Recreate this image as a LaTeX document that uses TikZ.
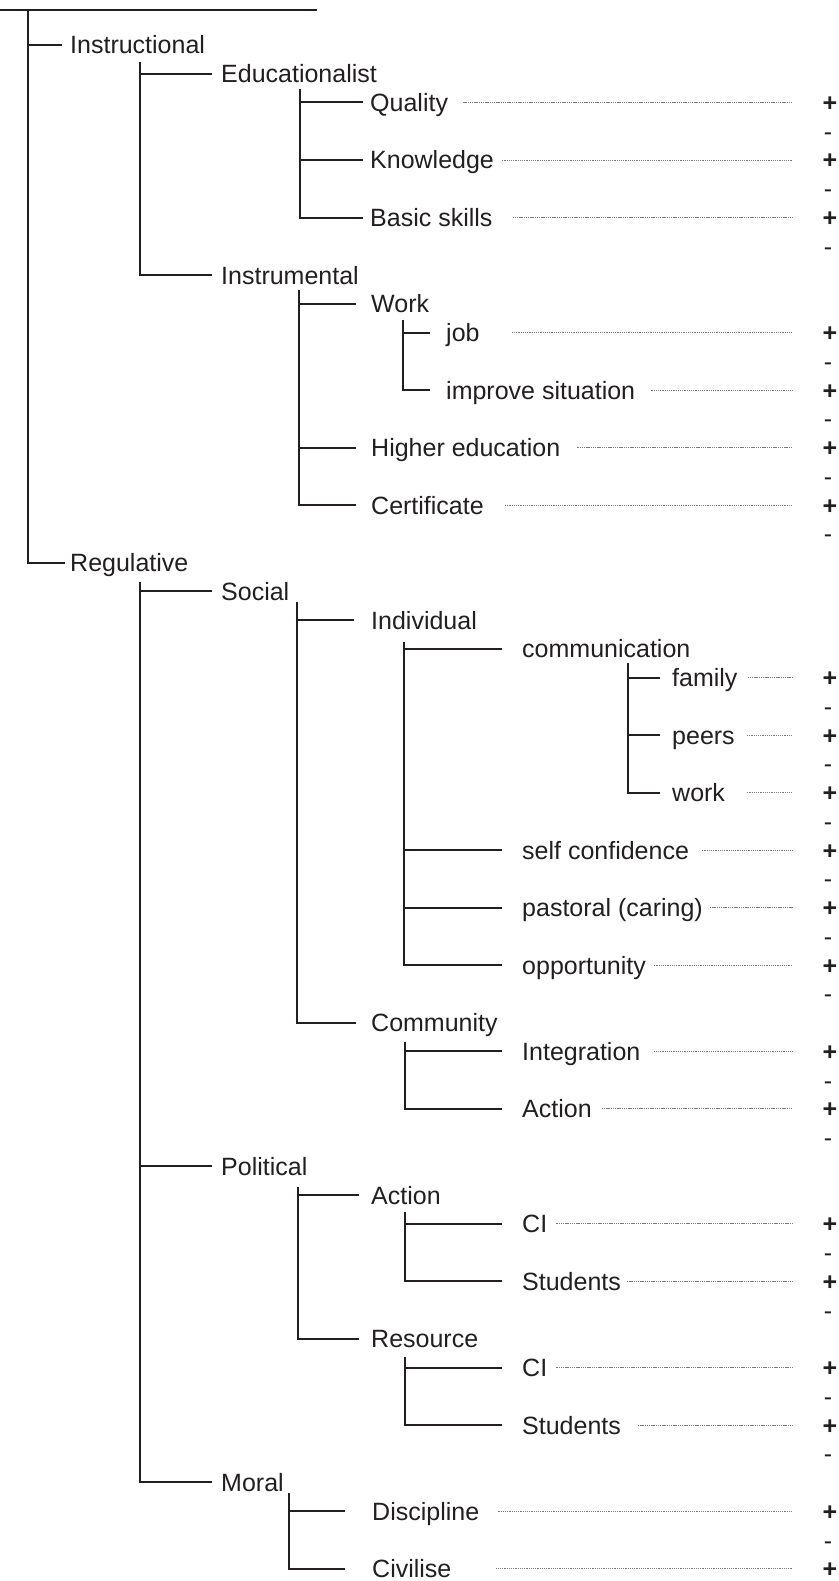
\documentclass[tikz,border=0pt]{standalone}
\usepackage{fontspec}
\setmainfont{Liberation Sans}
\definecolor{ink}{HTML}{231F20}
\newcommand\lbfont{\fontsize{25}{30}\selectfont}
% elbow from a stem top to a child label, ending #3 pt before the text
\newcommand\branch[3]{\draw[tree,shorten >=#3pt] (#1) |- (#2.west);}
\begin{document}
\begin{tikzpicture}[x=1pt,y=-1pt,
  lbl/.style={anchor=west,inner sep=0pt,text height=18pt,text depth=0pt,font=\lbfont,text=ink},
  tree/.style={draw=ink,line width=2pt},
  dotline/.style={draw=ink!60,line width=0.6pt,dash pattern=on 1.3pt off 0.9pt},
  plussign/.style={inner sep=0pt,text height=18pt,text depth=0pt,font=\lbfont\bfseries,text=ink},
  minussign/.style={inner sep=0pt,text height=18pt,text depth=0pt,font=\lbfont,text=ink},
]
\fill[white] (0,0) rectangle (838,1581);
\useasboundingbox (0,0) rectangle (838,1581);

% ---- labels ----
\node[lbl] (instructional) at (70,45) {Instructional};
\node[lbl] (educationalist) at (221,73.75) {Educationalist};
\node[lbl] (quality) at (370,102.5) {Quality};
\node[lbl] (knowledge) at (370,160) {Knowledge};
\node[lbl] (basic) at (370,217.5) {Basic skills};
\node[lbl] (instrumental) at (221,275) {Instrumental};
\node[lbl] (work) at (371,303.75) {Work};
\node[lbl] (job) at (446,332.5) {job};
\node[lbl] (improve) at (446,390) {improve situation};
\node[lbl] (higher) at (371,447.5) {Higher education};
\node[lbl] (certificate) at (371,505) {Certificate};
\node[lbl] (regulative) at (70,562.5) {Regulative};
\node[lbl] (social) at (221,591.25) {Social};
\node[lbl] (individual) at (371,620) {Individual};
\node[lbl] (communication) at (522,648.75) {communication};
\node[lbl] (family) at (672,677.5) {family};
\node[lbl] (peers) at (672,735) {peers};
\node[lbl] (cwork) at (672,792.5) {work};
\node[lbl] (selfconf) at (522,850) {self confidence};
\node[lbl] (pastoral) at (522,907.5) {pastoral (caring)};
\node[lbl] (opportunity) at (522,965) {opportunity};
\node[lbl] (community) at (371,1022.5) {Community};
\node[lbl] (integration) at (522,1051.25) {Integration};
\node[lbl] (caction) at (522,1108.75) {Action};
\node[lbl] (political) at (221,1166.25) {Political};
\node[lbl] (paction) at (371,1195) {Action};
\node[lbl] (aci) at (522,1223.75) {CI};
\node[lbl] (astudents) at (522,1281.25) {Students};
\node[lbl] (resource) at (371,1338.75) {Resource};
\node[lbl] (rci) at (522,1367.5) {CI};
\node[lbl] (rstudents) at (522,1425) {Students};
\node[lbl] (moral) at (221,1482) {Moral};
\node[lbl] (discipline) at (372,1511.25) {Discipline};
\node[lbl] (civilise) at (372,1568.75) {Civilise};

% ---- stems ----
\coordinate (topL) at (0,10);
\coordinate (topR) at (317,10);
\coordinate (s-root) at (28,10);
\coordinate (s-ins) at (140,62);
\coordinate (s-reg) at (140,582);
\coordinate (s-edu) at (300,89);
\coordinate (s-inm) at (299,290);
\coordinate (s-work) at (403,320);
\coordinate (s-soc) at (297,602);
\coordinate (s-ind) at (404,642);
\coordinate (s-com) at (628,663);
\coordinate (s-cty) at (405,1042);
\coordinate (s-pol) at (298,1187);
\coordinate (s-act) at (405,1212);
\coordinate (s-res) at (405,1357);
\coordinate (s-mor) at (289,1493);

\draw[tree] (topL) -- (topR);
\branch{s-root}{instructional}{8}
\branch{s-root}{regulative}{5}
\branch{s-ins}{educationalist}{9}
\branch{s-ins}{instrumental}{9}
\branch{s-edu}{quality}{7}
\branch{s-edu}{knowledge}{7}
\branch{s-edu}{basic}{7}
\branch{s-inm}{work}{15}
\branch{s-inm}{higher}{15}
\branch{s-inm}{certificate}{15}
\branch{s-work}{job}{16}
\branch{s-work}{improve}{16}
\branch{s-reg}{social}{9}
\branch{s-reg}{political}{9}
\branch{s-reg}{moral}{9}
\branch{s-soc}{individual}{17}
\branch{s-soc}{community}{15}
\branch{s-ind}{communication}{20}
\branch{s-ind}{selfconf}{20}
\branch{s-ind}{pastoral}{20}
\branch{s-ind}{opportunity}{20}
\branch{s-com}{family}{12}
\branch{s-com}{peers}{12}
\branch{s-com}{cwork}{12}
\branch{s-cty}{integration}{20}
\branch{s-cty}{caction}{20}
\branch{s-pol}{paction}{12}
\branch{s-pol}{resource}{12}
\branch{s-act}{aci}{20}
\branch{s-act}{astudents}{20}
\branch{s-res}{rci}{20}
\branch{s-res}{rstudents}{20}
\branch{s-mor}{discipline}{27}
\branch{s-mor}{civilise}{27}

% ---- rating scale: dotted leader, + on the row, - below it ----
\foreach \n/\y/\g in {quality/102.5/15, knowledge/160/8, basic/217.5/20,
  job/332.5/32, improve/390/16, higher/447.5/17, certificate/505/21,
  family/677.5/10, peers/735/12, cwork/792.5/22, selfconf/850/13,
  pastoral/907.5/7, opportunity/965/8, integration/1051.25/13,
  caction/1108.75/10, aci/1223.75/9, astudents/1281.25/6,
  rci/1367.5/9, rstudents/1425/17, discipline/1511.25/19, civilise/1568.75/44}{
  \node[plussign] (p-\n) at (830,\y) {+};
  \draw[dotline] ([xshift=\g pt]\n.east) -- ([xshift=-30pt]p-\n.west);
}
\foreach \n/\y in {quality/131.25, knowledge/188.75, basic/246.25,
  job/361.25, improve/418.75, higher/476.25, certificate/533.75,
  family/706.25, peers/763.75, cwork/821.25, selfconf/878.75,
  pastoral/936.25, opportunity/993.75, integration/1080,
  caction/1137.5, aci/1252.5, astudents/1310,
  rci/1396.25, rstudents/1453.75, discipline/1540}{
  \node[minussign] (m-\n) at (828,\y) {-};
}
\end{tikzpicture}
\end{document}
